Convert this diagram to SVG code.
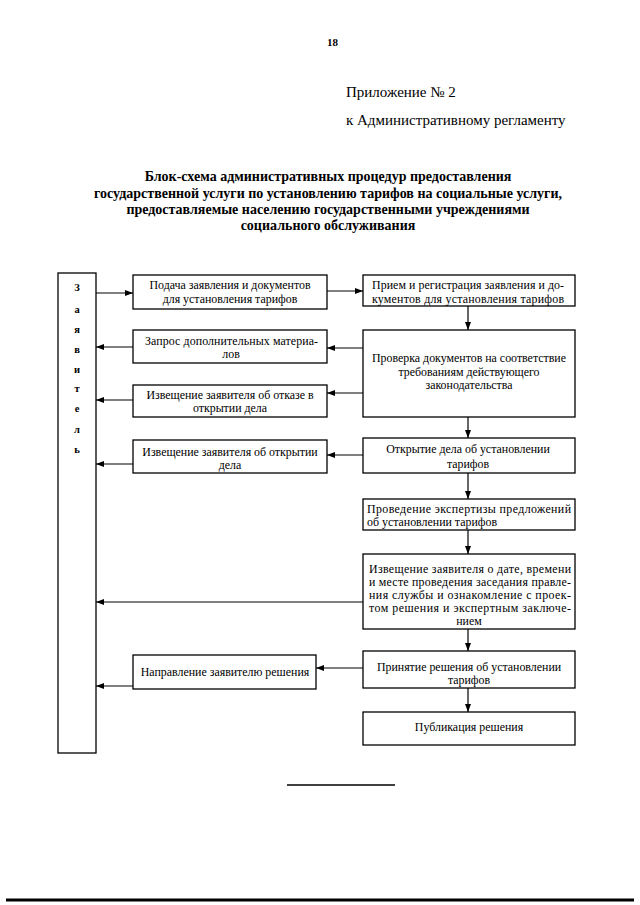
<svg xmlns="http://www.w3.org/2000/svg" width="640" height="905" viewBox="0 0 640 905">
<style>
text{font-family:"Liberation Serif","Times New Roman",serif;fill:#000}
.hd{font-size:15px}
.tt{font-size:14px;font-weight:bold;text-anchor:middle}
.bx{fill:#fff;stroke:#000;stroke-width:1.3}
.t{font-size:11.9px;text-anchor:middle}
.tl{font-size:11.9px}
.lt{font-size:10.5px;font-weight:bold;text-anchor:middle}
.c{fill:none;stroke:#000;stroke-width:1.2}
</style>
<defs>
<marker id="a" markerUnits="userSpaceOnUse" markerWidth="8" markerHeight="8" viewBox="0 0 8 8" refX="8" refY="4" orient="auto">
<path d="M0,1 L8,4 L0,7 Z" fill="#000"/>
</marker>
</defs>
<rect width="640" height="905" fill="#fff"/>
<text x="327" y="46" style="font-size:11px;font-weight:bold">18</text>
<text x="346" y="97" class="hd">Приложение № 2</text>
<text x="346" y="125" class="hd">к Административному регламенту</text>
<text class="tt" x="328" y="181">Блок-схема административных процедур предоставления</text>
<text class="tt" x="328" y="198">государственной услуги по установлению тарифов на социальные услуги,</text>
<text class="tt" x="328" y="214">предоставляемые населению государственными учреждениями</text>
<text class="tt" x="328" y="230">социального обслуживания</text>

<g id="zayavitel">
<rect class="bx" x="58" y="273" width="38" height="480"/>
<text class="lt" x="77" y="291">З</text>
<text class="lt" x="77" y="313">а</text>
<text class="lt" x="77" y="333">я</text>
<text class="lt" x="77" y="353">в</text>
<text class="lt" x="77" y="373">и</text>
<text class="lt" x="77" y="392">т</text>
<text class="lt" x="77" y="412">е</text>
<text class="lt" x="77" y="433">л</text>
<text class="lt" x="77" y="453">ь</text>
</g>
<g id="podacha">
<rect class="bx" x="133" y="275" width="194" height="34"/>
<text class="t" x="230" y="289">Подача заявления и документов</text>
<text class="t" x="230" y="303">для установления тарифов</text>
</g>
<g id="zapros">
<rect class="bx" x="133" y="330" width="194" height="33"/>
<text class="tl" x="145" y="345" textLength="173" lengthAdjust="spacing">Запрос дополнительных материа-</text>
<text class="t" x="231" y="358">лов</text>
</g>
<g id="otkaz">
<rect class="bx" x="133" y="385" width="194" height="32"/>
<text class="t" x="230" y="399">Извещение заявителя об отказе в</text>
<text class="t" x="230" y="412">открытии дела</text>
</g>
<g id="otkrytie-izv">
<rect class="bx" x="133" y="440" width="194" height="33"/>
<text class="t" x="230" y="456">Извещение заявителя об открытии</text>
<text class="t" x="230" y="469">дела</text>
</g>
<g id="napravlenie">
<rect class="bx" x="133" y="655" width="183" height="34"/>
<text class="t" x="225" y="676">Направление заявителю решения</text>
</g>
<g id="priem">
<rect class="bx" x="363" y="275" width="212" height="31"/>
<text class="tl" x="372" y="289" textLength="192" lengthAdjust="spacing">Прием и регистрация заявления и до-</text>
<text class="tl" x="372" y="302.5" textLength="192" lengthAdjust="spacing">кументов для установления тарифов</text>
</g>
<g id="proverka">
<rect class="bx" x="363" y="330" width="212" height="87"/>
<text class="t" x="469" y="362">Проверка документов на соответствие</text>
<text class="t" x="469" y="376">требованиям действующего</text>
<text class="t" x="469" y="389">законодательства</text>
</g>
<g id="otkrytie">
<rect class="bx" x="363" y="438" width="212" height="35"/>
<text class="t" x="468" y="453">Открытие дела об установлении</text>
<text class="t" x="468" y="468">тарифов</text>
</g>
<g id="ekspertiza">
<rect class="bx" x="363" y="499" width="212" height="31"/>
<text class="tl" x="367" y="513" textLength="204" lengthAdjust="spacing">Проведение экспертизы предложений</text>
<text class="tl" x="367" y="526">об установлении тарифов</text>
</g>
<g id="izveschenie">
<rect class="bx" x="363" y="554" width="212" height="75"/>
<text class="tl" x="369" y="573" textLength="202" lengthAdjust="spacing">Извещение заявителя о дате, времени</text>
<text class="tl" x="369" y="586" textLength="202" lengthAdjust="spacing">и месте проведения заседания правле-</text>
<text class="tl" x="369" y="599" textLength="202" lengthAdjust="spacing">ния службы и ознакомление с проек-</text>
<text class="tl" x="369" y="612" textLength="202" lengthAdjust="spacing">том решения и экспертным заключе-</text>
<text class="t" x="469" y="625">нием</text>
</g>
<g id="prinyatie">
<rect class="bx" x="363" y="651" width="212" height="37"/>
<text class="t" x="469" y="671">Принятие решения об установлении</text>
<text class="t" x="469" y="684">тарифов</text>
</g>
<g id="publikaciya">
<rect class="bx" x="363" y="712" width="212" height="33"/>
<text class="t" x="469" y="731">Публикация решения</text>
</g>

<g id="connectors">
<path class="c" d="M96,293 H133" marker-end="url(#a)"/>
<path class="c" d="M327,291 H363" marker-end="url(#a)"/>
<path class="c" d="M133,347 H96" marker-end="url(#a)"/>
<path class="c" d="M363,348 H327" marker-end="url(#a)"/>
<path class="c" d="M133,400 H96" marker-end="url(#a)"/>
<path class="c" d="M363,393 H327" marker-end="url(#a)"/>
<path class="c" d="M133,464 H96" marker-end="url(#a)"/>
<path class="c" d="M363,455 H327" marker-end="url(#a)"/>
<path class="c" d="M363,602 H96" marker-end="url(#a)"/>
<path class="c" d="M363,668 H316" marker-end="url(#a)"/>
<path class="c" d="M133,686 H96" marker-end="url(#a)"/>
<path class="c" d="M468,306 V330" marker-end="url(#a)"/>
<path class="c" d="M468,417 V438" marker-end="url(#a)"/>
<path class="c" d="M468,473 V499" marker-end="url(#a)"/>
<path class="c" d="M468,530 V554" marker-end="url(#a)"/>
<path class="c" d="M468,629 V651" marker-end="url(#a)"/>
<path class="c" d="M468,688 V712" marker-end="url(#a)"/>
</g>
<line x1="287" y1="785" x2="395" y2="785" stroke="#000" stroke-width="1.5"/>
<line x1="6" y1="900" x2="634" y2="900" stroke="#000" stroke-width="3"/>
</svg>
